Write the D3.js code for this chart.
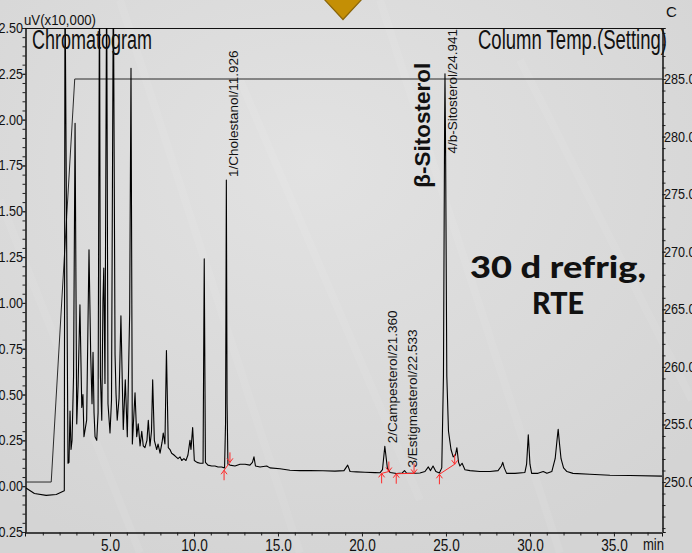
<!DOCTYPE html>
<html>
<head>
<meta charset="utf-8">
<script src="https://cdn.jsdelivr.net/npm/d3@7"></script>
<style>
  html, body { margin: 0; padding: 0; background: #d9d9d9; }
  svg { display: block; }
  text { font-family: "Liberation Sans", Arial, sans-serif; fill: #111; }
</style>
</head>
<body>
<svg id="chart" width="692" height="553"></svg>
<script>
// Detector signal, uV (x10,000), sampled as [retention time (min), signal]
const trace = [
  [0.00,-0.01],[0.5,-0.04],[1.2,-0.05],[1.8,-0.045],[2.28,-0.025],[2.32,2.8],[2.5,0.125],
  [2.56,0.13],[2.62,0.41],[2.68,0.2],[2.74,0.25],[2.83,0.6],[2.92,1.98],[3.02,0.34],[3.1,0.55],
  [3.21,0.99],[3.32,0.43],[3.39,0.5],[3.45,0.27],[3.61,0.36],[3.75,1.29],[3.85,0.72],[3.93,0.45],
  [3.99,0.73],[4.05,0.4],[4.11,0.27],[4.21,0.25],[4.29,0.4],[4.375,2.8],[4.43,0.6],[4.51,0.36],
  [4.58,1.01],[4.63,1.19],[4.7,0.56],[4.8,2.8],[4.88,0.45],[5.0,0.29],[5.09,0.47],[5.2,2.8],
  [5.3,0.72],[5.36,0.5],[5.43,0.36],[5.54,0.48],[5.65,0.93],[5.79,0.31],[5.91,0.58],[6.03,0.27],
  [6.17,0.94],[6.25,2.28],[6.33,0.23],[6.49,0.51],[6.59,0.27],[6.68,0.34],[6.79,0.22],[6.89,0.3],
  [6.98,0.22],[7.08,0.21],[7.2,0.25],[7.28,0.36],[7.38,0.22],[7.47,0.3],[7.54,0.58],[7.64,0.25],
  [7.78,0.2],[7.86,0.23],[7.98,0.18],[8.1,0.24],[8.17,0.29],[8.27,0.23],[8.36,0.74],[8.47,0.21],
  [8.57,0.2],[8.67,0.18],[8.81,0.17],[8.93,0.16],[9.05,0.15],[9.17,0.16],[9.27,0.14],[9.4,0.15],
  [9.52,0.14],[9.64,0.17],[9.76,0.25],[9.82,0.2],[9.92,0.32],[10.02,0.14],[10.18,0.13],[10.36,0.125],
  [10.54,0.125],[10.61,1.24],[10.68,0.13],[10.83,0.115],[11.05,0.11],[11.25,0.11],[11.43,0.105],
  [11.64,0.105],[11.82,0.1],[11.88,0.35],[11.926,1.67],[11.97,0.45],[12.02,0.12],[12.14,0.115],
  [12.44,0.11],[12.74,0.12],[13.04,0.12],[13.33,0.115],[13.48,0.13],[13.57,0.16],[13.66,0.11],
  [13.93,0.105],[14.33,0.11],[14.52,0.1],[15.12,0.095],[15.71,0.087],[16.31,0.085],[16.9,0.085],
  [17.68,0.084],[18.39,0.082],[18.93,0.085],[19.15,0.115],[19.29,0.08],[19.68,0.078],[20.18,0.076],
  [20.77,0.074],[21.07,0.073],[21.22,0.09],[21.36,0.218],[21.51,0.1],[21.67,0.075],[22.06,0.069],
  [22.4,0.072],[22.533,0.085],[22.65,0.072],[22.86,0.07],[23.45,0.072],[23.75,0.08],[23.95,0.105],
  [24.08,0.085],[24.23,0.11],[24.4,0.08],[24.61,0.072],[24.75,0.1],[24.85,0.6],[24.92,2.0],
  [24.941,2.25],[24.98,1.8],[25.05,0.6],[25.15,0.3],[25.3,0.2],[25.43,0.16],[25.56,0.17],[25.65,0.21],
  [25.75,0.13],[25.83,0.11],[25.96,0.125],[26.13,0.09],[26.43,0.085],[27.02,0.08],[27.62,0.08],
  [28.1,0.085],[28.3,0.11],[28.38,0.13],[28.47,0.1],[28.61,0.07],[29.11,0.07],[29.7,0.075],
  [29.8,0.12],[29.9,0.28],[30.0,0.12],[30.1,0.07],[30.48,0.07],[30.79,0.08],[31.01,0.07],[31.3,0.08],
  [31.5,0.15],[31.62,0.26],[31.68,0.31],[31.75,0.24],[31.85,0.15],[32.0,0.1],[32.2,0.08],[32.56,0.07],
  [33.57,0.065],[34.76,0.06],[35.95,0.058],[37.86,0.055]
];

// Column oven program (setting)
const programTime = [0, 1.5, 2.9, 37.86];
const programTemp = [250, 250, 285, 285];

// Identified peaks
const peakNames  = ["Cholestanol", "Campesterol", "Estigmasterol", "b-Sitosterol"];
const peakTimes  = [11.926, 21.360, 22.533, 24.941];
const peakHeights = [1.67, 0.218, 0.085, 2.25];

// Integration baseline start / end points [time, signal]
const integrationStart = [[11.79, 0.087], [21.17, 0.07], [22.04, 0.068], [24.61, 0.065]];
const integrationEnd   = [[12.14, 0.13], [21.6, 0.08], [23.1, 0.07], [25.52, 0.12]];

// Axis ticks
const signalTicks = [-0.25, 0, 0.25, 0.5, 0.75, 1.0, 1.25, 1.5, 1.75, 2.0, 2.25, 2.5];
const timeTicks = [5, 10, 15, 20, 25, 30, 35];
const tempTicks = [250, 255, 260, 265, 270, 275, 280, 285];

(function draw() {
  const svg = d3.select("#chart");
  const W = 692, H = 553;
  const pL = 25, pR = 662, pT = 28, pB = 532;

  const x = d3.scaleLinear().domain([-0.06, 37.86]).range([pL, pR]);
  const y = d3.scaleLinear().domain([-0.25, 2.5]).range([pB, pT]);
  const yT = d3.scaleLinear().domain([245.66, 289.43]).range([pB, pT]);

  // background
  const defs = svg.append("defs");
  const bg = defs.append("radialGradient").attr("id", "bg")
    .attr("cx", "45%").attr("cy", "30%").attr("r", "75%");
  bg.append("stop").attr("offset", "0%").attr("stop-color", "#e2e2e2");
  bg.append("stop").attr("offset", "100%").attr("stop-color", "#d4d4d4");
  svg.append("rect").attr("width", W).attr("height", H).attr("fill", "url(#bg)");

  // faint diagonal streaks of the slide texture
  const streaks = [[120, 0, 300, 553], [380, 0, 560, 553], [520, 60, 692, 400], [0, 200, 140, 553], [240, 80, 420, 500]];
  svg.append("g").selectAll("line").data(streaks).join("line")
    .attr("x1", d => d[0]).attr("y1", d => d[1]).attr("x2", d => d[2]).attr("y2", d => d[3])
    .attr("stroke", "#ffffff").attr("stroke-opacity", 0.07).attr("stroke-width", 8);

  // pointer marker at top
  svg.append("path")
    .attr("d", "M323,-2 L363,-2 L343,19.5 Z")
    .attr("fill", "#c48f05").attr("stroke", "#8a6508").attr("stroke-width", 1.2);

  defs.append("clipPath").attr("id", "plot")
    .append("rect").attr("x", pL).attr("y", pT).attr("width", pR - pL).attr("height", pB - pT);

  function squeeze(sel, f) {
    sel.each(function () {
      const w = this.getComputedTextLength();
      d3.select(this).attr("textLength", w * f).attr("lengthAdjust", "spacingAndGlyphs");
    });
  }

  // left axis (signal)
  const gL = svg.append("g").attr("transform", `translate(${pL + 0.5},0)`);
  gL.call(d3.axisLeft(y).tickValues(d3.range(-5, 51).map(i => i * 0.05)).tickSize(3).tickFormat(""));
  const gL2 = svg.append("g").attr("transform", `translate(${pL + 0.5},0)`);
  gL2.call(d3.axisLeft(y).tickValues(signalTicks).tickSize(3).tickFormat(d3.format(".2f")));
  gL2.selectAll("text").attr("x", -2.5).style("font-size", "14px").attr("fill", "#111");
  squeeze(gL2.selectAll("text"), 0.9);

  // bottom axis (time)
  const gB = svg.append("g").attr("transform", `translate(0,${pB + 0.5})`);
  gB.call(d3.axisBottom(x).tickValues(d3.range(1, 38)).tickSize(3).tickFormat(""));
  const gB2 = svg.append("g").attr("transform", `translate(0,${pB + 0.5})`);
  gB2.call(d3.axisBottom(x).tickValues(timeTicks).tickSize(4).tickPadding(3).tickFormat(d3.format(".1f")));
  gB2.selectAll("text").style("font-size", "16px").attr("fill", "#111");
  squeeze(gB2.selectAll("text"), 0.85);

  // right axis (column temperature)
  const gR = svg.append("g").attr("transform", `translate(${pR + 0.5},0)`);
  gR.call(d3.axisRight(yT).tickValues(d3.range(246, 290)).tickSize(3).tickFormat(""));
  const gR2 = svg.append("g").attr("transform", `translate(${pR + 0.5},0)`);
  gR2.call(d3.axisRight(yT).tickValues(tempTicks).tickSize(3).tickFormat(d3.format(".1f")));
  gR2.selectAll("text").attr("x", 1.5).style("font-size", "14px").attr("fill", "#111");
  squeeze(gR2.selectAll("text"), 0.9);

  [gL, gL2, gB, gB2, gR, gR2].forEach(g => {
    g.selectAll("line").attr("stroke", "#222");
    g.select(".domain").attr("stroke", "#111");
  });

  // top frame line
  svg.append("line").attr("x1", pL).attr("x2", pR + 1).attr("y1", pT + 0.5).attr("y2", pT + 0.5)
    .attr("stroke", "#111");

  const plot = svg.append("g").attr("clip-path", "url(#plot)");

  // temperature program line
  const tempLine = d3.line().x((d, i) => x(programTime[i])).y(d => yT(d));
  plot.append("path").datum(programTemp).attr("d", tempLine)
    .attr("fill", "none").attr("stroke", "#2a2a2a").attr("stroke-width", 1);

  // chromatogram trace
  const sigLine = d3.line().x(d => x(d[0])).y(d => y(d[1]));
  plot.append("path").datum(trace).attr("d", sigLine)
    .attr("fill", "none").attr("stroke", "#000").attr("stroke-width", 1.1).attr("stroke-linejoin", "round");

  // integration baselines and markers
  const red = "#ff2a2a";
  const integ = plot.append("g");
  integrationStart.forEach((s, i) => {
    const e = integrationEnd[i];
    integ.append("line").attr("x1", x(s[0])).attr("y1", y(s[1])).attr("x2", x(e[0])).attr("y2", y(e[1]))
      .attr("stroke", red).attr("stroke-width", 1);
  });
  integ.selectAll("path.up").data(integrationStart).join("path").attr("class", "up")
    .attr("d", d => {
      const px = x(d[0]), py = y(d[1]);
      return `M${px},${py + 10}L${px},${py}M${px - 3},${py + 4}L${px},${py}L${px + 3},${py + 4}`;
    })
    .attr("fill", "none").attr("stroke", red).attr("stroke-width", 1);
  integ.selectAll("path.down").data(integrationEnd).join("path").attr("class", "down")
    .attr("d", d => {
      const px = x(d[0]), py = y(d[1]);
      return `M${px},${py - 10}L${px},${py}M${px - 3},${py - 4}L${px},${py}L${px + 3},${py - 4}`;
    })
    .attr("fill", "none").attr("stroke", red).attr("stroke-width", 1);

  // peak labels, rotated, placed above each apex (pushed down when they would pass the frame top)
  peakNames.forEach((name, i) => {
    const px = x(peakTimes[i]) + 12;
    const t = svg.append("text")
      .attr("font-size", "13.5px")
      .text(`${i + 1}/${name}/${peakTimes[i].toFixed(3)}`);
    const len = t.node().getComputedTextLength();
    const py = Math.max(y(peakHeights[i]) - 3, pT + len + 1);
    t.attr("transform", `translate(${px},${py}) rotate(-90)`);
  });

  // compound annotation beside the main peak
  svg.append("text")
    .attr("transform", `translate(${x(peakTimes[3]) - 15},${y(1.97)}) rotate(-90)`)
    .attr("text-anchor", "middle")
    .attr("font-size", "22.5px").attr("font-weight", "bold")
    .text("β-Sitosterol");

  // sample annotation
  const noteFont = "Lato, 'Noto Sans', sans-serif";
  svg.append("text").attr("x", 558).attr("y", 278).attr("text-anchor", "middle")
    .attr("font-size", "30px").attr("font-weight", 900).style("font-family", noteFont)
    .attr("textLength", 176).attr("lengthAdjust", "spacingAndGlyphs")
    .text("30 d refrig,");
  svg.append("text").attr("x", 558).attr("y", 314).attr("text-anchor", "middle")
    .attr("font-size", "30px").attr("font-weight", 900).style("font-family", noteFont)
    .attr("textLength", 52).attr("lengthAdjust", "spacingAndGlyphs")
    .text("RTE");

  // headings and units
  svg.append("text").attr("x", 32).attr("y", 49).attr("font-size", "27px")
    .attr("textLength", 120).attr("lengthAdjust", "spacingAndGlyphs").text("Chromatogram");
  svg.append("text").attr("x", 478).attr("y", 49).attr("font-size", "27px")
    .attr("textLength", 189).attr("lengthAdjust", "spacingAndGlyphs").text("Column Temp.(Setting)");
  svg.append("text").attr("x", 24).attr("y", 25).attr("font-size", "14.5px")
    .attr("textLength", 72).attr("lengthAdjust", "spacingAndGlyphs").text("uV(x10,000)");
  svg.append("text").attr("x", 666).attr("y", 17).attr("font-size", "15px").text("C");
  svg.append("text").attr("x", 664).attr("y", 550).attr("text-anchor", "end").attr("font-size", "16px")
    .attr("textLength", 21).attr("lengthAdjust", "spacingAndGlyphs").text("min");
})();
</script>
</body>
</html>
